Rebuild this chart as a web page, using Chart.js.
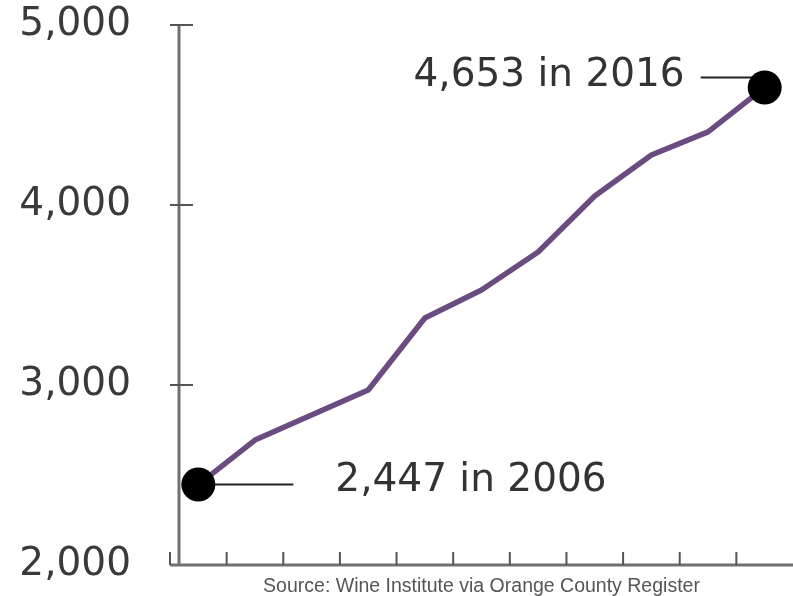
<!DOCTYPE html>
<html>
<head>
<meta charset="utf-8">
<script src="https://cdn.jsdelivr.net/npm/chart.js@4.4.1/dist/chart.umd.min.js"></script>
<style>
    html, body { margin: 0; padding: 0; background: #fff; overflow: hidden; }
    #wrap { width: 793px; height: 596px; position: relative; }
    canvas { display: block; }
</style>
</head>
<body>
<div id="wrap"><canvas id="chart"></canvas></div>
<script>
// California wineries, 2006-2016
const years = ['2006', '2007', '2008', '2009', '2010', '2011', '2012', '2013', '2014', '2015', '2016'];
const wineries = [2447, 2694, 2833, 2972, 3372, 3528, 3739, 4050, 4278, 4406, 4653];
const yTicks = [2000, 3000, 4000, 5000];
const sourceNote = 'Source: Wine Institute via Orange County Register';

const fmt = v => v.toLocaleString('en-US');
const bigFont = '"DejaVu Sans", sans-serif';
const last = wineries.length - 1;

// hand drawn axes: y line sits a bit inside the plot, ticks cross it, x ticks point up
const axesPlugin = {
    id: 'axes',
    beforeDatasetsDraw(chart) {
        const { ctx, chartArea: a, scales: { x, y } } = chart;
        const axisX = a.left + 9;
        ctx.save();
        ctx.strokeStyle = '#707070';
        ctx.lineWidth = 3;
        ctx.beginPath();
        ctx.moveTo(axisX, y.getPixelForValue(yTicks[yTicks.length - 1]));
        ctx.lineTo(axisX, a.bottom);
        ctx.moveTo(a.left, a.bottom);
        ctx.lineTo(a.right, a.bottom);
        ctx.stroke();

        ctx.lineWidth = 2;
        ctx.strokeStyle = '#555';
        ctx.beginPath();
        yTicks.slice(1).forEach(v => {
            const py = y.getPixelForValue(v);
            ctx.moveTo(a.left, py);
            ctx.lineTo(a.left + 23, py);
        });
        // x ticks on category boundaries
        const step = x.getPixelForValue(1) - x.getPixelForValue(0);
        for (let i = 0; i <= years.length; i++) {
            const px = x.getPixelForValue(0) - step / 2 + i * step;
            if (px > a.right - 2) break;
            ctx.moveTo(px, a.bottom);
            ctx.lineTo(px, a.bottom - 13);
        }
        ctx.stroke();
        ctx.restore();
    }
};

const labelsPlugin = {
    id: 'endLabels',
    beforeDatasetsDraw(chart) {
        const { ctx } = chart;
        const pts = chart.getDatasetMeta(0).data;
        const p0 = pts[0], pN = pts[last];
        ctx.save();
        ctx.strokeStyle = '#222';
        ctx.lineWidth = 2;
        ctx.beginPath();
        ctx.moveTo(p0.x, p0.y);
        ctx.lineTo(p0.x + 95, p0.y);
        ctx.moveTo(pN.x - 64, pN.y - 10);
        ctx.lineTo(pN.x, pN.y - 10);
        ctx.stroke();

        ctx.fillStyle = '#333';
        ctx.font = '39px ' + bigFont;
        ctx.textBaseline = 'middle';
        ctx.textAlign = 'left';
        ctx.fillText(fmt(wineries[0]) + ' in ' + years[0], p0.x + 137, p0.y - 4);
        ctx.textAlign = 'right';
        ctx.fillText(fmt(wineries[last]) + ' in ' + years[last], pN.x - 80, pN.y - 12);
        ctx.restore();
    }
};

new Chart(document.getElementById('chart'), {
    type: 'line',
    data: {
        labels: years,
        datasets: [{
            data: wineries,
            borderColor: 'rgb(106, 76, 128)',
            borderWidth: 5.5,
            borderJoinStyle: 'round',
            borderCapStyle: 'round',
            tension: 0,
            pointRadius: wineries.map((_, i) => (i === 0 || i === last) ? 17 : 0),
            pointBackgroundColor: '#000',
            pointBorderWidth: 0,
            fill: false,
            clip: false
        }]
    },
    options: {
        responsive: true,
        maintainAspectRatio: false,
        animation: false,
        layout: { autoPadding: false, padding: { top: 25, right: 0, bottom: 0, left: 0 } },
        plugins: {
            legend: { display: false },
            tooltip: { enabled: false }
        },
        scales: {
            x: {
                offset: true,
                grid: { display: false },
                border: { display: false },
                ticks: { display: false },
                title: {
                    display: true,
                    text: sourceNote,
                    color: '#555',
                    font: { family: '"Liberation Sans", Arial, sans-serif', size: 19.5, lineHeight: 1 },
                    padding: { top: 0, bottom: 0 }
                },
                afterFit(scale) {
                    scale.height = 31;
                    scale.paddingLeft = 0;
                    scale.paddingRight = 0;
                }
            },
            y: {
                min: yTicks[0],
                max: yTicks[yTicks.length - 1],
                grid: { display: false },
                border: { display: false },
                afterBuildTicks(scale) { scale.ticks = yTicks.map(v => ({ value: v })); },
                ticks: {
                    callback: v => fmt(v),
                    color: '#3a3a3a',
                    font: { family: bigFont, size: 39 },
                    padding: 31
                },
                afterFit(scale) {
                    scale.width = 170;
                    scale.paddingTop = 0;
                    scale.paddingBottom = 0;
                }
            }
        }
    },
    plugins: [axesPlugin, labelsPlugin]
});
</script>
</body>
</html>
